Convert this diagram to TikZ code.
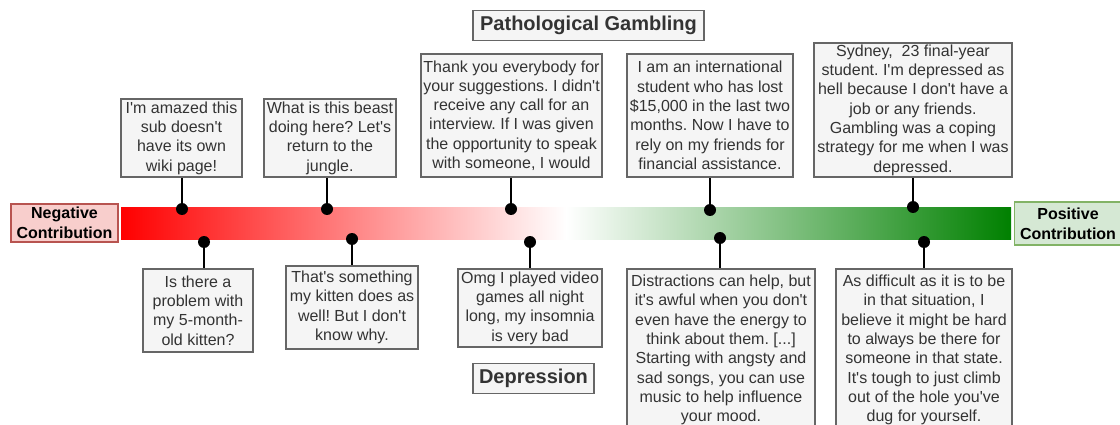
\documentclass[tikz,border=0pt]{standalone}
\usepackage{fontspec}
\setmainfont{Liberation Sans}[Ligatures=TeXOff]
\frenchspacing
\definecolor{tcol}{HTML}{333333}
\definecolor{bcol}{HTML}{666666}
\definecolor{bfill}{HTML}{F5F5F5}
\definecolor{negfill}{HTML}{F8CECC}
\definecolor{negdraw}{HTML}{B85450}
\definecolor{posfill}{HTML}{D5E8D4}
\definecolor{posdraw}{HTML}{82B366}
\definecolor{dgreen}{HTML}{008000}
\begin{document}
\begin{tikzpicture}[x=1pt,y=-1pt,
  txt/.style={font=\fontsize{16}{19.3}\selectfont, text=tcol, align=center},
  post/.style={draw=bcol, fill=bfill, line width=1.2pt, inner sep=0pt, txt},
  titlebox/.style={draw=bcol, fill=bfill, line width=1.2pt, inner sep=0pt, font=\fontsize{20}{24}\selectfont\bfseries, text=tcol},
  endbox/.style={line width=1.2pt, inner sep=0pt, align=center, font=\fontsize{16}{20}\selectfont\bfseries, text=black},
  blackdot/.style={circle, fill=black, minimum size=12pt, inner sep=0pt},
  conn/.style={line width=1.5pt, draw=black}]
\useasboundingbox (0,0) rectangle (1120,425);
\clip (0,0) rectangle (1120,425);

% gradient bar
\shade[left color=red, right color=white] (121,208) rectangle (566.5,239);
\shade[left color=white, right color=dgreen] (566,208) rectangle (1011,239);

% end labels
\node[endbox, draw=negdraw, fill=negfill, minimum width=107pt, minimum height=38pt] (neg) at (64.5,223) {Negative\\Contribution};
\node[endbox, draw=posdraw, fill=posfill, minimum width=107pt, minimum height=43pt] (pos) at (1068,223.5) {Positive\\Contribution};

% titles
\node[titlebox, minimum width=231pt, minimum height=30pt] (pg) at (588.5,25.5) {Pathological Gambling};
\node[titlebox, minimum width=121pt, minimum height=30pt] (dep) at (533.5,378.5) {Depression};

% top posts
\node[post, minimum width=121pt, minimum height=78pt] (t1) at (181.5,138) {I'm amazed this\\sub doesn't\\have its own\\wiki page!};
\node[post, minimum width=132pt, minimum height=78pt] (t2) at (330,138) {What is this beast\\doing here? Let's\\return to the\\jungle.};
\node[post, minimum width=181pt, minimum height=123pt] (t3) at (511.5,115.5) {Thank you everybody for\\your suggestions. I didn't\\receive any call for an\\interview. If I was given\\the opportunity to speak\\with someone, I would};
\node[post, minimum width=166pt, minimum height=123pt] (t4) at (710,115.5) {I am an international\\student who has lost\\\$15,000 in the last two\\months. Now I have to\\rely on my friends for\\financial assistance.};
\node[post, minimum width=198pt, minimum height=134pt] (t5) at (913,110) {Sydney,\ \ 23 final-year\\student. I'm depressed as\\hell because I don't have a\\job or any friends.\\Gambling was a coping\\strategy for me when I was\\depressed.};

% bottom posts
\node[post, minimum width=110pt, minimum height=83pt] (b1) at (198,310.5) {Is there a\\problem with\\my 5-month-\\old kitten?};
\node[post, minimum width=132pt, minimum height=83pt] (b2) at (352,307.5) {That's something\\my kitten does as\\well! But I don't\\know why.};
\node[post, minimum width=144pt, minimum height=78pt] (b3) at (530,308) {Omg I played video\\games all night\\long, my insomnia\\is very bad};
\node[post, minimum width=188pt, minimum height=162pt] (b4) at (721,350) {Distractions can help, but\\it's awful when you don't\\even have the energy to\\think about them. [...]\\Starting with angsty and\\sad songs, you can use\\music to help influence\\your mood.};
\node[post, minimum width=176pt, minimum height=162pt] (b5) at (924,350) {As difficult as it is to be\\in that situation, I\\believe it might be hard\\to always be there for\\someone in that state.\\It's tough to just climb\\out of the hole you've\\dug for yourself.};

% dots
\node[blackdot] (d1) at (182,209) {};
\node[blackdot] (d2) at (327,209) {};
\node[blackdot] (d3) at (511,209) {};
\node[blackdot] (d4) at (710,210) {};
\node[blackdot] (d5) at (913,207) {};
\node[blackdot] (e1) at (204,242) {};
\node[blackdot] (e2) at (352,239) {};
\node[blackdot] (e3) at (530,242) {};
\node[blackdot] (e4) at (720,238) {};
\node[blackdot] (e5) at (924,242) {};

% connectors
\draw[conn] (d1.center) -- (d1 |- t1.south);
\draw[conn] (d2.center) -- (d2 |- t2.south);
\draw[conn] (d3.center) -- (d3 |- t3.south);
\draw[conn] (d4.center) -- (d4 |- t4.south);
\draw[conn] (d5.center) -- (d5 |- t5.south);
\draw[conn] (e1.center) -- (e1 |- b1.north);
\draw[conn] (e2.center) -- (e2 |- b2.north);
\draw[conn] (e3.center) -- (e3 |- b3.north);
\draw[conn] (e4.center) -- (e4 |- b4.north);
\draw[conn] (e5.center) -- (e5 |- b5.north);
\end{tikzpicture}
\end{document}
